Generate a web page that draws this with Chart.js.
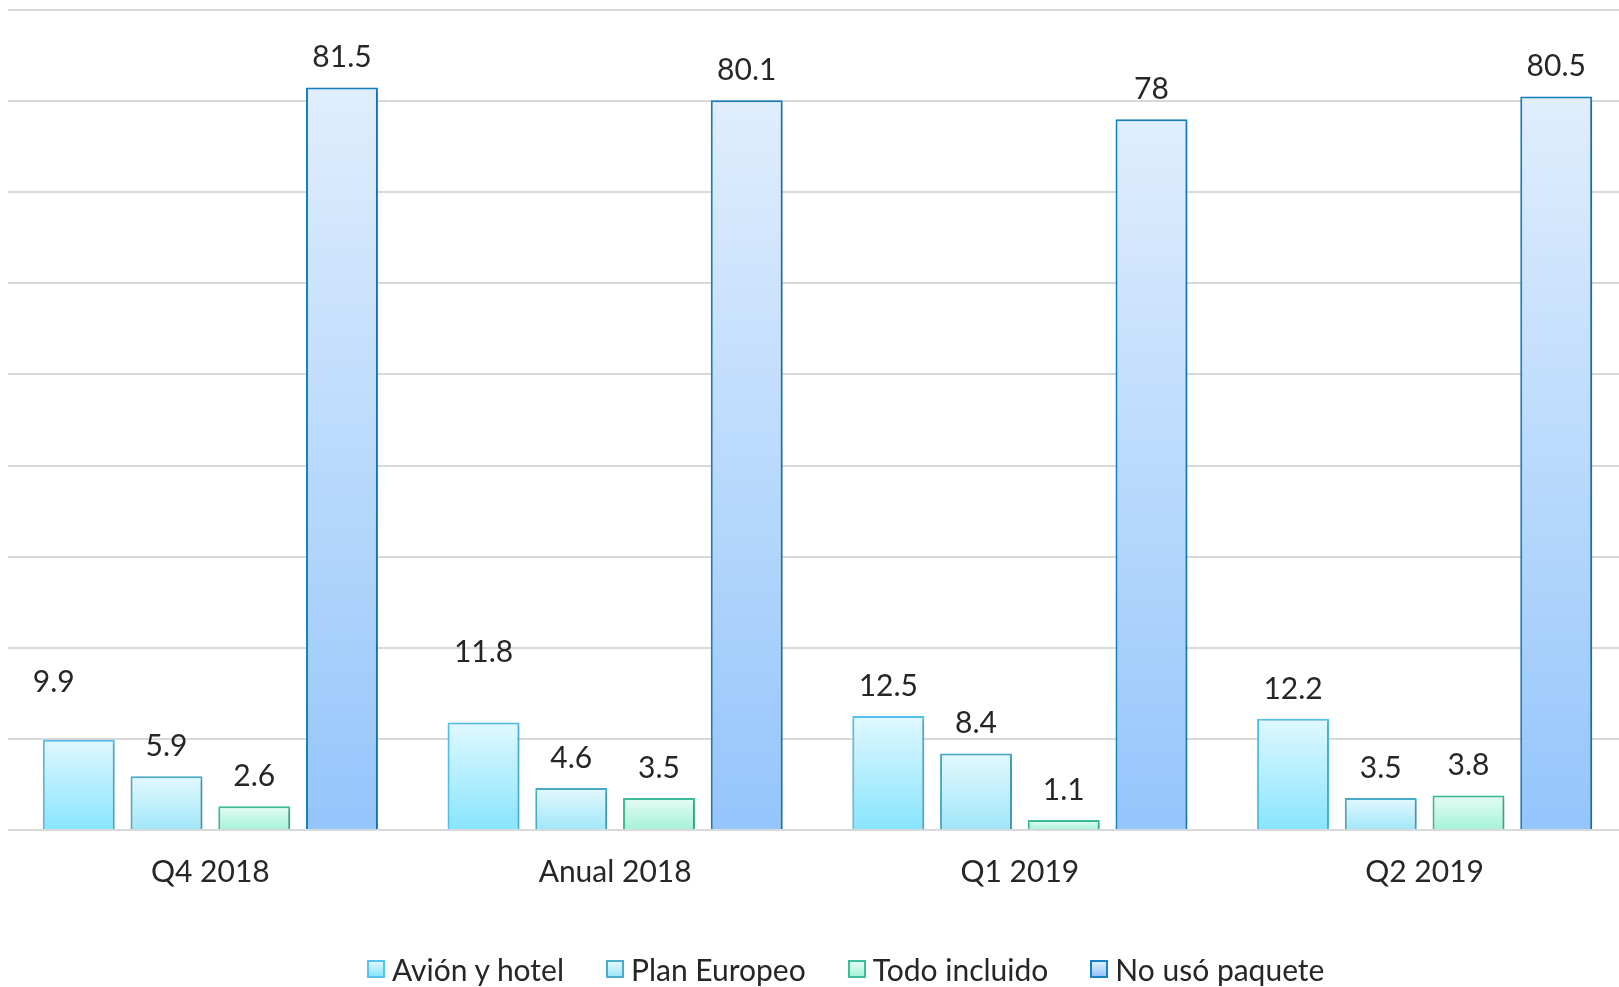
<!DOCTYPE html>
<html lang="es">
<head>
<meta charset="utf-8">
<title>Uso de paquetes turísticos</title>
<script src="https://cdn.jsdelivr.net/npm/chart.js@4/dist/chart.umd.min.js"></script>
<style>
  html, body { margin: 0; padding: 0; background: #ffffff; overflow: hidden; }
  #wrap { position: relative; width: 1628px; height: 987px; }
  #legend {
    position: absolute; left: 367px; top: 951px;
    display: flex; align-items: center; gap: 42px;
    font-family: Lato, "Open Sans", sans-serif; font-size: 30px; color: #262626;
    line-height: 36px; white-space: nowrap;
  }
  .item { display: flex; align-items: center; }
  .box { width: 14px; height: 14px; border: 2px solid; margin-right: 7px; }
</style>
</head>
<body>
<div id="wrap">
  <canvas id="chart" width="1628" height="987"></canvas>
  <div id="legend"></div>
</div>
<script>
// Categories and series
const categories = ['Q4 2018', 'Anual 2018', 'Q1 2019', 'Q2 2019'];
const seriesNames = ['Avión y hotel', 'Plan Europeo', 'Todo incluido', 'No usó paquete'];
const avionHotel   = [9.9, 11.8, 12.5, 12.2];
const planEuropeo  = [5.9, 4.6, 8.4, 3.5];
const todoIncluido = [2.6, 3.5, 1.1, 3.8];
const noUsoPaquete = [81.5, 80.1, 78, 80.5];
const yTickValues  = [0, 10, 20, 30, 40, 50, 60, 70, 80, 90];

// Fill gradient (top, bottom) and outline per series
const palette = [
  { top: '#e0f8ff', bottom: '#88e5fd', border: '#55c2ef' },
  { top: '#e4f8fe', bottom: '#a0e7f9', border: '#48adcb' },
  { top: '#e5fcf4', bottom: '#a4f2d9', border: '#3dbe9b' },
  { top: '#e0eefd', bottom: '#94c5fb', border: '#1683c3' }
];

function barGradient(top, bottom) {
  return (c) => {
    const chart = c.chart;
    const y = chart.scales.y;
    if (!chart.chartArea || !y || c.type !== 'data') return bottom;
    const yTop = y.getPixelForValue(c.raw);
    const yBase = y.getPixelForValue(0);
    if (!isFinite(yTop) || !isFinite(yBase) || yTop === yBase) return bottom;
    const g = chart.ctx.createLinearGradient(0, yTop, 0, yBase);
    g.addColorStop(0, top);
    g.addColorStop(1, bottom);
    return g;
  };
}

const seriesValues = [avionHotel, planEuropeo, todoIncluido, noUsoPaquete];
const datasets = seriesValues.map((vals, i) => ({
  label: seriesNames[i],
  data: vals,
  backgroundColor: barGradient(palette[i].top, palette[i].bottom),
  borderColor: palette[i].border,
  borderWidth: 2,
  borderSkipped: 'bottom',
  barPercentage: 0.82,
  categoryPercentage: 0.867
}));

// Soft drop shadow under the bars
const barShadow = {
  id: 'barShadow',
  beforeDatasetDraw(chart) {
    const ctx = chart.ctx;
    ctx.save();
    ctx.shadowColor = 'rgba(0,0,0,0.22)';
    ctx.shadowBlur = 4;
    ctx.shadowOffsetX = 1.5;
    ctx.shadowOffsetY = 1.5;
  },
  afterDatasetDraw(chart) {
    chart.ctx.restore();
  }
};

// Value labels above each bar
const valueLabels = {
  id: 'valueLabels',
  afterDatasetsDraw(chart, args, opts) {
    const ctx = chart.ctx;
    ctx.save();
    ctx.font = opts.font;
    ctx.fillStyle = opts.color;
    ctx.textAlign = 'center';
    ctx.textBaseline = 'middle';
    chart.data.datasets.forEach((ds, di) => {
      const meta = chart.getDatasetMeta(di);
      meta.data.forEach((bar, i) => {
        const shift = (opts.shifts[di + '-' + i]) || [0, 0];
        ctx.fillText(String(ds.data[i]), bar.x + shift[0], bar.y - opts.gap + shift[1]);
      });
    });
    ctx.restore();
  }
};

new Chart(document.getElementById('chart'), {
  type: 'bar',
  data: { labels: categories, datasets },
  plugins: [barShadow, valueLabels],
  options: {
    responsive: false,
    animation: false,
    layout: { padding: { left: 8, right: 1, top: 10, bottom: 73 } },
    plugins: {
      legend: { display: false },
      tooltip: { enabled: false },
      valueLabels: {
        font: '30px Lato, "Open Sans", sans-serif',
        color: '#262626',
        gap: 30,
        shifts: { '0-0': [-25, -27], '0-1': [0, -40] }
      }
    },
    scales: {
      x: {
        grid: { display: false, drawTicks: false },
        border: { display: false },
        ticks: {
          padding: 24,
          color: '#262626',
          font: { family: 'Lato, "Open Sans", sans-serif', size: 30 }
        }
      },
      y: {
        min: yTickValues[0],
        max: yTickValues[yTickValues.length - 1],
        afterBuildTicks(scale) { scale.ticks = yTickValues.map(v => ({ value: v })); },
        grid: { color: '#d9d9d9', lineWidth: 2, drawTicks: false },
        border: { display: false },
        ticks: { display: false }
      }
    }
  }
});

// Legend built from the series
const legend = document.getElementById('legend');
seriesNames.forEach((name, i) => {
  const item = document.createElement('div');
  item.className = 'item';
  const box = document.createElement('span');
  box.className = 'box';
  box.style.borderColor = palette[i].border;
  box.style.background = 'linear-gradient(' + palette[i].top + ', ' + palette[i].bottom + ')';
  const txt = document.createElement('span');
  txt.textContent = name;
  item.appendChild(box);
  item.appendChild(txt);
  legend.appendChild(item);
});
</script>
</body>
</html>
